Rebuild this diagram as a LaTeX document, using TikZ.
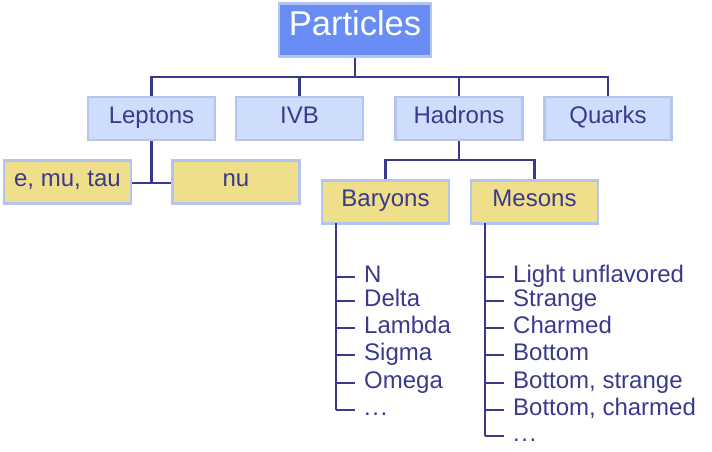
\documentclass[tikz,border=0pt]{standalone}
\usepackage{fontspec}
\setmainfont{Liberation Sans}
\definecolor{topfill}{HTML}{6A8CF5}
\definecolor{bluefill}{HTML}{CFDDFC}
\definecolor{yelfill}{HTML}{EFDE8A}
\definecolor{boxline}{HTML}{B3C5EF}
\definecolor{ink}{HTML}{3A3A8C}
\newcommand\tdots{.\kern1.5pt.\kern1.5pt.}
\begin{document}
\begin{tikzpicture}[x=1pt,y=-1pt,
  box/.style={draw=boxline,line width=2.5pt,minimum width=127pt,minimum height=43pt,inner sep=0pt,text=ink,text height=16pt,text depth=7pt,font=\fontsize{24}{26}\selectfont},
  topbox/.style={box,fill=topfill,minimum width=152pt,minimum height=53pt,text=white,text height=22pt,text depth=10pt,font=\fontsize{34.5}{38}\selectfont},
  bluebox/.style={box,fill=bluefill},
  yelbox/.style={box,fill=yelfill},
  conn/.style={draw=ink,line width=2.8pt},
  item/.style={anchor=base west,inner sep=0pt,text=ink,font=\fontsize{24}{26}\selectfont}]
\useasboundingbox (0,0) rectangle (712,452);
\node[topbox] (particles) at (355,30) {Particles};
\node[bluebox] (leptons) at (151.5,118.5) {Leptons};
\node[bluebox] (ivb) at (299.5,118.5) {IVB};
\node[bluebox] (hadrons) at (459,118.5) {Hadrons};
\node[bluebox] (quarks) at (608,118.5) {Quarks};
\node[yelbox] (emutau) at (67.5,182) {e, mu, tau};
\node[yelbox] (nu) at (236,182) {nu};
\node[yelbox] (baryons) at (385.5,202) {Baryons};
\node[yelbox] (mesons) at (534.5,202) {Mesons};
% top level connectors
\coordinate (bus) at (355,77);
\draw[conn] (particles.south) -- (bus);
\draw[conn] (leptons.north) |- (bus) -| (quarks.north);
\draw[conn] (ivb.north) -- (ivb.north |- bus);
\draw[conn] (hadrons.north) -- (hadrons.north |- bus);
% leptons
\coordinate (lj) at (151.5,183);
\draw[conn] (leptons.south) -- (lj);
\draw[conn] (emutau.east |- lj) -- (nu.west |- lj);
% hadrons
\coordinate (hj) at (459,160);
\draw[conn] (hadrons.south) -- (hj);
\draw[conn] (baryons.north) |- (hj) -| (mesons.north);
% baryon list
\coordinate (bt) at (336,223);
\coordinate (bb) at (336,410);
\draw[conn] (bt) -- (bb);
\foreach \i/\t [count=\k] in {277/N,301/Delta,328/Lambda,355/Sigma,383/Omega,410/\tdots}{
  \coordinate (bc\k) at (336,\i);
  \node[item] (b\k) at (364,\i+5) {\t};
  \draw[conn] (bc\k) -- ++(19,0);
}
% meson list
\coordinate (mt) at (485,223);
\coordinate (mb) at (485,436);
\draw[conn] (mt) -- (mb);
\foreach \i/\t [count=\k] in {277/Light unflavored,301/Strange,328/Charmed,355/Bottom,383/{Bottom, strange},410/{Bottom, charmed},436/\tdots}{
  \coordinate (mc\k) at (485,\i);
  \node[item] (m\k) at (513,\i+5) {\t};
  \draw[conn] (mc\k) -- ++(19,0);
}
\end{tikzpicture}
\end{document}
